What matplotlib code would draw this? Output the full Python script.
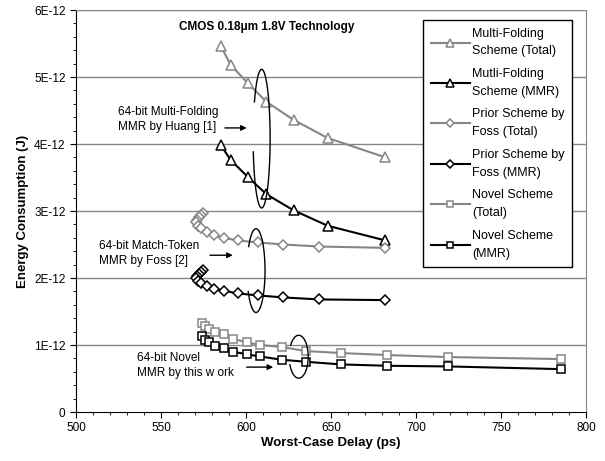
import numpy as np
import matplotlib.pyplot as plt
from matplotlib.ticker import MultipleLocator

plt.rcParams['font.family'] = ['Liberation Sans', 'DejaVu Sans']

# Multi-Folding (Huang)
mf_x = [585, 591, 601, 612, 628, 648, 682]
mf_total = [5.47, 5.18, 4.91, 4.63, 4.36, 4.09, 3.80]
mf_mmr = [3.99, 3.76, 3.51, 3.25, 3.01, 2.78, 2.56]

# Prior scheme (Foss)
foss_x = [574.5, 573.5, 572.3, 571.2, 570.6, 571.8, 573.5, 577, 581, 587, 595, 607, 622, 643, 682]
foss_total = [2.97, 2.94, 2.91, 2.87, 2.83, 2.78, 2.74, 2.69, 2.64, 2.60, 2.56, 2.53, 2.50, 2.47, 2.45]
foss_mmr = [2.12, 2.09, 2.06, 2.03, 2.00, 1.96, 1.93, 1.88, 1.84, 1.81, 1.77, 1.74, 1.71, 1.68, 1.67]

# Novel scheme
nov_x = [574, 576, 578, 582, 587, 592.5, 600.5, 608, 621, 635, 656, 683, 719, 785]
nov_total = [1.33, 1.28, 1.24, 1.20, 1.16, 1.09, 1.04, 1.00, 0.97, 0.91, 0.88, 0.85, 0.82, 0.79]
nov_mmr = [1.13, 1.07, 1.04, 0.99, 0.95, 0.90, 0.86, 0.83, 0.78, 0.75, 0.71, 0.69, 0.68, 0.64]

y_ticks = [0, 1, 2, 3, 4, 5, 6]
y_labels = ['0', '1E-12', '2E-12', '3E-12', '4E-12', '5E-12', '6E-12']
x_ticks = [500, 550, 600, 650, 700, 750, 800]

gray = '#868686'

fig = plt.figure(figsize=(6.05, 4.61), dpi=100)
ax = fig.add_axes([76 / 605, 1 - 412 / 461, 510 / 605, 402 / 461])

ax.set_xlim(500, 800)
ax.set_ylim(0, 6)
for y in y_ticks[1:]:
    ax.axhline(y, color=gray, lw=1, zorder=0)

kw = dict(lw=1.5, markerfacecolor='white', markeredgewidth=1.1)
ax.plot(mf_x, mf_total, color=gray, marker='^', markersize=7, markeredgecolor=gray,
        label='Multi-Folding\nScheme (Total)', **kw)
ax.plot(mf_x, mf_mmr, color='black', marker='^', markersize=7, markeredgecolor='black',
        label='Mutli-Folding\nScheme (MMR)', **kw)
ax.plot(foss_x, foss_total, color=gray, marker='D', markersize=5, markeredgecolor=gray,
        label='Prior Scheme by\nFoss (Total)', **kw)
ax.plot(foss_x, foss_mmr, color='black', marker='D', markersize=5, markeredgecolor='black',
        label='Prior Scheme by\nFoss (MMR)', **kw)
ax.plot(nov_x, nov_total, color=gray, marker='s', markersize=6, markeredgecolor=gray,
        label='Novel Scheme\n(Total)', **kw)
ax.plot(nov_x, nov_mmr, color='black', marker='s', markersize=6, markeredgecolor='black',
        label='Novel Scheme\n(MMR)', **kw)


# ellipses with a small gap on the left side (parametric angles in degrees)
def open_ellipse(cx, cy, w, h, t_start, t_end):
    t = np.radians(np.linspace(t_start, t_end, 200))
    ax.plot(cx + w / 2 * np.cos(t), cy + h / 2 * np.sin(t), color='black', lw=1)


open_ellipse(609.2, 4.08, 10, 2.07, -169, 148)
open_ellipse(605.9, 2.11, 10.6, 1.25, -150, 145)
open_ellipse(631, 0.825, 11.2, 0.64, -158, 147)

arrow = dict(arrowstyle='-|>', color='black', lw=1, mutation_scale=8, shrinkA=0, shrinkB=0)
ax.text(524.7, 4.37, '64-bit Multi-Folding\nMMR by Huang [1]', fontsize=8.5, va='center', linespacing=1.35)
ax.annotate('', xy=(600.4, 4.24), xytext=(587.6, 4.24), arrowprops=arrow)
ax.text(513.5, 2.37, '64-bit Match-Token\nMMR by Foss [2]', fontsize=8.5, va='center', linespacing=1.35)
ax.annotate('', xy=(592.2, 2.34), xytext=(578.8, 2.34), arrowprops=arrow)
ax.text(535.9, 0.70, '64-bit Novel\nMMR by this w ork', fontsize=8.5, va='center', linespacing=1.35)
ax.annotate('', xy=(616, 0.67), xytext=(600.4, 0.67), arrowprops=arrow)

ax.text(560.6, 5.75, 'CMOS 0.18\u03bcm 1.8V Technology', fontsize=8.5, fontweight='bold', va='center')

ax.set_xticks(x_ticks)
ax.set_yticks(y_ticks)
ax.set_yticklabels(y_labels)
ax.xaxis.set_minor_locator(MultipleLocator(10))
ax.yaxis.set_minor_locator(MultipleLocator(0.2))
ax.tick_params(which='major', direction='out', length=4, labelsize=8.5, color='black')
ax.tick_params(which='minor', direction='out', length=2, color='black')
for s in ['top', 'right']:
    ax.spines[s].set_color(gray)
for s in ['left', 'bottom']:
    ax.spines[s].set_color('black')

ax.set_xlabel('Worst-Case Delay (ps)', fontsize=9.5, fontweight='bold', labelpad=2)
ax.set_ylabel('Energy Consumption (J)', fontsize=9.5, fontweight='bold', labelpad=4)

leg = ax.legend(loc='upper left', bbox_to_anchor=(423 / 605, 1 - 20 / 461), bbox_transform=fig.transFigure,
                fontsize=9, frameon=True, fancybox=False, edgecolor='black', framealpha=1,
                handlelength=3.15, handletextpad=0.2, labelspacing=0.85, borderaxespad=0, borderpad=0.6,
                markerscale=0.75)
leg.get_frame().set_linewidth(1)
for t in leg.get_texts():
    t.set_linespacing(1.65)

fig.savefig('out.png', dpi=100)
